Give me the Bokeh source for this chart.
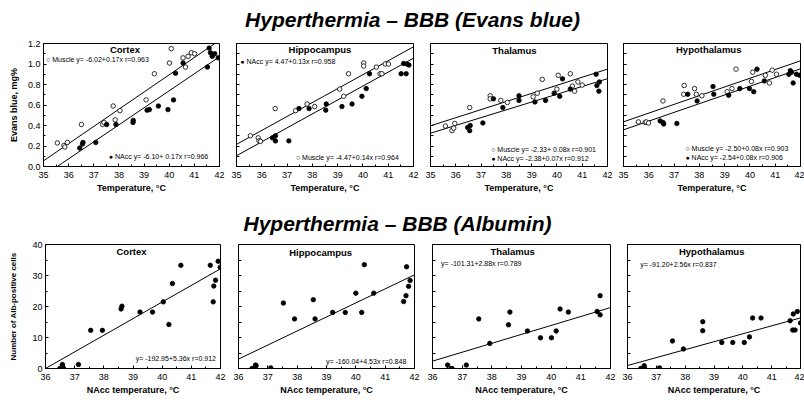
from bokeh.plotting import figure
from bokeh.layouts import column, row
from bokeh.models import Label, FixedTicker, NumeralTickFormatter, Range1d
from bokeh.embed import file_html
from bokeh.resources import INLINE

FONT = "Liberation Sans"

# ---------------- data ----------------
regions = ["Cortex", "Hippocampus", "Thalamus", "Hypothalamus"]

eb_x_ticks = [35, 36, 37, 38, 39, 40, 41, 42]
eb_y_ticks = [0.0, 0.2, 0.4, 0.6, 0.8, 1.0, 1.2]
alb_x_ticks = [36, 37, 38, 39, 40, 41, 42]
alb_y_ticks = [0, 10, 20, 30, 40]

# Evans blue (mg%) vs temperature (deg C): open = Muscle temp, filled = NAcc temp
cortex_muscle_t = [35.55, 35.81, 35.85, 35.95, 36.51, 37.35, 37.41, 37.77, 37.85, 38.04, 39.08, 39.41, 40.01, 40.08, 40.55, 40.65, 40.75, 40.88, 41.01]
cortex_muscle_v = [0.23, 0.205, 0.19, 0.235, 0.41, 0.41, 0.43, 0.59, 0.455, 0.545, 0.65, 0.905, 1.01, 1.15, 1.06, 0.97, 1.075, 1.11, 1.10]
cortex_nacc_t = [36.44, 36.55, 36.57, 37.08, 37.51, 37.88, 38.56, 38.57, 39.12, 39.21, 39.57, 39.95, 40.17, 40.25, 40.55, 41.52, 41.59, 41.64, 41.71, 41.81, 41.95]
cortex_nacc_v = [0.18, 0.22, 0.235, 0.235, 0.41, 0.41, 0.43, 0.45, 0.55, 0.555, 0.59, 0.555, 0.65, 0.91, 1.01, 0.97, 1.155, 1.11, 1.075, 1.10, 1.06]

hippo_muscle_t = [35.55, 35.86, 35.89, 35.95, 36.53, 37.34, 37.79, 38.09, 39.08, 39.24, 39.43, 40.03, 40.03, 40.53, 40.68, 40.75, 40.88, 41.01]
hippo_muscle_v = [0.30, 0.28, 0.25, 0.245, 0.565, 0.545, 0.61, 0.585, 0.755, 0.685, 0.905, 1.01, 0.98, 0.97, 0.905, 0.905, 1.0, 1.0]
hippo_nacc_t = [36.42, 36.54, 36.54, 37.07, 37.47, 37.87, 38.53, 38.55, 39.17, 39.57, 39.96, 40.13, 40.26, 41.51, 41.61, 41.71, 41.74, 41.82]
hippo_nacc_v = [0.28, 0.30, 0.25, 0.25, 0.565, 0.565, 0.55, 0.61, 0.585, 0.61, 0.685, 0.76, 0.905, 0.905, 1.005, 0.905, 1.0, 0.99]

thal_muscle_t = [35.59, 35.85, 35.92, 35.96, 36.55, 37.36, 37.36, 37.78, 38.04, 39.06, 39.22, 39.42, 40.0, 40.05, 40.53, 40.61, 40.7, 40.83, 41.0]
thal_muscle_v = [0.395, 0.35, 0.375, 0.42, 0.575, 0.69, 0.66, 0.645, 0.625, 0.68, 0.715, 0.85, 0.755, 0.89, 0.905, 0.785, 0.735, 0.825, 0.795]
thal_nacc_t = [36.47, 36.55, 36.57, 37.07, 37.49, 37.86, 38.5, 38.5, 39.13, 39.55, 39.89, 40.11, 40.22, 40.53, 41.55, 41.58, 41.66, 41.68]
thal_nacc_v = [0.38, 0.35, 0.40, 0.425, 0.66, 0.575, 0.69, 0.645, 0.63, 0.645, 0.715, 0.685, 0.855, 0.755, 0.9, 0.79, 0.735, 0.825]

hypo_muscle_t = [35.59, 35.86, 35.9, 35.99, 36.56, 37.38, 37.4, 37.81, 37.88, 38.1, 39.1, 39.29, 39.45, 40.06, 40.11, 40.61, 40.77, 40.88, 41.05]
hypo_muscle_v = [0.435, 0.43, 0.435, 0.425, 0.64, 0.705, 0.79, 0.76, 0.705, 0.69, 0.73, 0.76, 0.95, 0.83, 0.92, 0.89, 0.815, 0.94, 0.9]
hypo_nacc_t = [36.45, 36.56, 36.59, 37.11, 37.54, 37.91, 38.54, 38.57, 39.16, 39.6, 39.98, 40.15, 40.28, 40.57, 41.54, 41.6, 41.64, 41.71, 41.84, 41.97]
hypo_nacc_v = [0.445, 0.43, 0.415, 0.42, 0.705, 0.64, 0.78, 0.705, 0.695, 0.76, 0.76, 0.73, 0.95, 0.835, 0.9, 0.935, 0.92, 0.815, 0.9, 0.89]

# regression lines as drawn (intercept, slope)
eb_fit_muscle_a = [-5.825, -4.544, -2.368, -2.539]
eb_fit_muscle_b = [0.168, 0.136, 0.079, 0.085]
eb_fit_nacc_a = [-5.901, -4.655, -2.335, -2.617]
eb_fit_nacc_b = [0.166, 0.136, 0.076, 0.085]

eb_eq_upper = ["\u25cb Muscle y= -6.02+0.17x  r=0.963", "\u25cf NAcc y= 4.47+0.13x  r=0.958",
               "\u25cb Muscle  y= -2.33+ 0.08x  r=0.901", "\u25cb Muscle  y= -2.50+0.08x  r=0.903"]
eb_eq_lower = ["\u25cf NAcc y= -6.10+ 0.17x   r=0.966", "\u25cb Muscle  y= -4.47+0.14x  r=0.964",
               "\u25cf NAcc  y= -2.38+0.07x  r=0.912", "\u25cf NAcc y= -2.54+0.08x  r=0.906"]

# Albumin-positive cells vs NAcc temperature
alb_cortex_t = [36.49, 36.58, 36.58, 36.62, 37.13, 37.55, 37.95, 38.59, 38.62, 39.24, 39.67, 40.04, 40.23, 40.35, 40.64, 41.65, 41.75, 41.77, 41.83, 41.92, 41.99]
alb_cortex_n = [0, 0.8, 1.3, 0, 1.3, 12.3, 12.3, 19.2, 20.1, 18.2, 18.2, 21.5, 14.2, 27.4, 33.3, 33.3, 21.5, 26.6, 28.5, 34.6, 32.7]
alb_hippo_t = [36.46, 36.58, 36.6, 37.1, 37.53, 37.91, 38.55, 38.61, 39.21, 39.64, 40.0, 40.2, 40.29, 40.61, 41.63, 41.71, 41.73, 41.8, 41.85]
alb_hippo_n = [0, 1.1, 0.9, 0.2, 21.1, 16.0, 22.2, 16.0, 18.1, 18.1, 24.3, 18.1, 33.5, 24.3, 21.6, 23.5, 32.8, 26.5, 28.4]
alb_thal_t = [36.51, 36.63, 36.66, 37.14, 37.56, 37.93, 38.56, 38.61, 39.2, 39.64, 40.01, 40.17, 40.3, 40.58, 41.55, 41.65, 41.65]
alb_thal_n = [1.1, 0, 0, 1.1, 16.0, 8.1, 14.1, 18.2, 12.1, 9.9, 9.9, 12.1, 19.2, 18.2, 18.4, 23.5, 17.3]
alb_hypo_t = [36.46, 36.53, 36.58, 36.59, 37.11, 37.56, 37.94, 38.61, 38.61, 39.27, 39.65, 40.05, 40.23, 40.34, 40.63, 41.64, 41.73, 41.75, 41.81, 41.89, 42.0]
alb_hypo_n = [0, 0, 0.9, 0.2, 0.2, 8.9, 6.3, 12.2, 15.1, 8.4, 8.4, 8.4, 10.2, 16.3, 16.3, 15.4, 12.4, 17.6, 12.4, 18.4, 14.7]

alb_fit_a = [-192.95, -160.04, -101.31, -91.20]
alb_fit_b = [5.36, 4.53, 2.88, 2.56]
alb_fit_r = [0.912, 0.848, 0.789, 0.837]

# ---------------- helpers ----------------
def base_panel(w, h, bl, br, bt, bb, xr, yr, xt, xminor, yt, yminor, first, ylabel, yfmt, xlabel, ylab_size, ylab_standoff):
    p = figure(width=w, height=h, x_range=Range1d(*xr), y_range=Range1d(*yr),
               output_backend="svg", toolbar_location=None,
               min_border_left=bl, min_border_right=br, min_border_top=bt, min_border_bottom=bb)
    p.xgrid.visible = False
    p.ygrid.visible = False
    p.outline_line_color = "black"
    p.outline_line_width = 1
    p.background_fill_color = "white"
    p.border_fill_color = "white"
    p.xaxis.ticker = FixedTicker(ticks=xt, minor_ticks=xminor)
    if first:
        p.yaxis.ticker = FixedTicker(ticks=yt, minor_ticks=yminor)
    else:
        # unlabeled inner axes: tick marks only
        p.yaxis.ticker = FixedTicker(ticks=[], minor_ticks=yminor)
    for ax in (p.xaxis, p.yaxis):
        ax.axis_line_color = "black"
        ax.major_tick_in = 3
        ax.major_tick_out = 0
        ax.minor_tick_in = 2
        ax.minor_tick_out = 0
        ax.major_tick_line_color = "black"
        ax.minor_tick_line_color = "black"
        ax.major_label_text_font = FONT
        ax.major_label_text_font_size = "9px"
        ax.major_label_text_color = "black"
        ax.axis_label_text_font = FONT
        ax.axis_label_text_font_style = "bold"
        ax.axis_label_text_color = "black"
    p.xaxis.major_label_standoff = 5
    p.xaxis.axis_label = xlabel
    p.xaxis.axis_label_text_font_size = "9px"
    p.xaxis.axis_label_standoff = 2
    if first:
        p.yaxis.major_label_standoff = 3
        p.yaxis.axis_label = ylabel
        p.yaxis.axis_label_text_font_size = ylab_size
        p.yaxis.axis_label_standoff = ylab_standoff
        if yfmt:
            p.yaxis.formatter = NumeralTickFormatter(format=yfmt)
    else:
        p.yaxis.minor_tick_in = 3
        p.yaxis.major_label_standoff = 0
    return p


def add_text(p, x, y, text, size, style="normal", align="left"):
    p.add_layout(Label(x=x, y=y, text=text, text_font=FONT, text_font_size=size,
                       text_font_style=style, text_align=align, text_baseline="middle",
                       text_color="black"))


def title_fig(text, h, baseline_from_top, cx):
    p = figure(width=804, height=h, x_range=Range1d(0, 804), y_range=Range1d(0, h),
               x_axis_type=None, y_axis_type=None, output_backend="svg",
               toolbar_location=None, min_border=0, title=None)
    p.outline_line_color = None
    p.add_layout(Label(x=cx, y=h - baseline_from_top, text=text, text_align="center",
                       text_baseline="alphabetic", text_font=FONT, text_font_size="21px",
                       text_font_style="bold italic", text_color="black"))
    return p


# ---------------- top row: Evans blue ----------------
eb_sets = [
    (cortex_muscle_t, cortex_muscle_v, cortex_nacc_t, cortex_nacc_v),
    (hippo_muscle_t, hippo_muscle_v, hippo_nacc_t, hippo_nacc_v),
    (thal_muscle_t, thal_muscle_v, thal_nacc_t, thal_nacc_v),
    (hypo_muscle_t, hypo_muscle_v, hypo_nacc_t, hypo_nacc_v),
]
top_geom = [  # width, border left, border right
    (226, 43, 7),
    (194, 10, 7),
    (193, 10, 6),
    (191, 10, 4),
]
top_title_pos = [(38.24, 1.14), (38.3, 1.14), (38.32, 1.135), (38.37, 1.14)]
top_eq_upper_pos = [(35.1, 1.04), (35.15, 1.02), (37.4, 0.17), (37.45, 0.176)]
top_eq_lower_pos = [(37.6, 0.095), (37.35, 0.085), (37.4, 0.078), (37.45, 0.088)]

eb_minor_x = [35 + 0.5 * i for i in range(15)]
eb_minor_y = [0.1 * i for i in range(13)]

top_figs = []
for i, (mt, mv, nt, nv) in enumerate(eb_sets):
    w, bl, br = top_geom[i]
    p = base_panel(w, 166, bl, br, 10, 33, (35, 42), (0, 1.2), eb_x_ticks, eb_minor_x,
                   eb_y_ticks, eb_minor_y, i == 0, "Evans blue, mg%", "0.0",
                   "Temperature, \u00b0C", "9px", 6)
    xs = [35, 42]
    p.line(xs, [eb_fit_muscle_a[i] + eb_fit_muscle_b[i] * x for x in xs], line_color="black", line_width=1)
    p.line(xs, [eb_fit_nacc_a[i] + eb_fit_nacc_b[i] * x for x in xs], line_color="black", line_width=1)
    p.scatter(mt, mv, marker="circle", size=4.5, fill_color="white", line_color="black", line_width=0.8)
    p.scatter(nt, nv, marker="circle", size=4.5, fill_color="black", line_color="black", line_width=0.8)
    add_text(p, top_title_pos[i][0], top_title_pos[i][1], regions[i], "9.5px", "bold", "center")
    add_text(p, top_eq_upper_pos[i][0], top_eq_upper_pos[i][1], eb_eq_upper[i], "7px")
    add_text(p, top_eq_lower_pos[i][0], top_eq_lower_pos[i][1], eb_eq_lower[i], "7px")
    top_figs.append(p)

# ---------------- bottom row: Albumin ----------------
alb_sets = [(alb_cortex_t, alb_cortex_n), (alb_hippo_t, alb_hippo_n),
            (alb_thal_t, alb_thal_n), (alb_hypo_t, alb_hypo_n)]
bot_geom = [
    (226, 45, 6),
    (196, 12, 8),
    (195, 10, 7),
    (187, 10, 4),
]
bot_title_pos = [(38.95, 37.6), (38.8, 37.4), (38.7, 37.7), (38.92, 37.7)]
bot_eq_pos = [(39.09, 3.1), (38.98, 2.3), (36.29, 33.8), (36.44, 33.5)]
alb_eq = ["y= -192.95+5.36x  r=0.912", "y= -160.04+4.53x  r=0.848",
          "y= -101.31+2.88x  r=0.789", "y= -91.20+2.56x  r=0.837"]
alb_minor_x = [36 + 0.5 * i for i in range(13)]
alb_minor_y = [5 * i for i in range(9)]

bot_figs = []
for i, (t, n) in enumerate(alb_sets):
    w, bl, br = bot_geom[i]
    p = base_panel(w, 164, bl, br, 9, 31, (36, 42), (0, 40), alb_x_ticks, alb_minor_x,
                   alb_y_ticks, alb_minor_y, i == 0, "Number of Alb-positive cells", None,
                   "NAcc temperature, \u00b0C", "8px", 11)
    xs = [36, 42]
    p.line(xs, [alb_fit_a[i] + alb_fit_b[i] * x for x in xs], line_color="black", line_width=1)
    p.scatter(t, n, marker="circle", size=4.5, fill_color="black", line_color="black", line_width=0.8)
    add_text(p, bot_title_pos[i][0], bot_title_pos[i][1], regions[i], "9.5px", "bold", "center")
    add_text(p, bot_eq_pos[i][0], bot_eq_pos[i][1], alb_eq[i], "7px")
    bot_figs.append(p)

t1 = title_fig("Hyperthermia \u2013 BBB (Evans blue)", 33, 19, 412)
t2 = title_fig("Hyperthermia \u2013 BBB (Albumin)", 36, 24, 397)

layout = column(t1, row(*top_figs), t2, row(*bot_figs))

open("out.html", "w").write(file_html(layout, INLINE))
